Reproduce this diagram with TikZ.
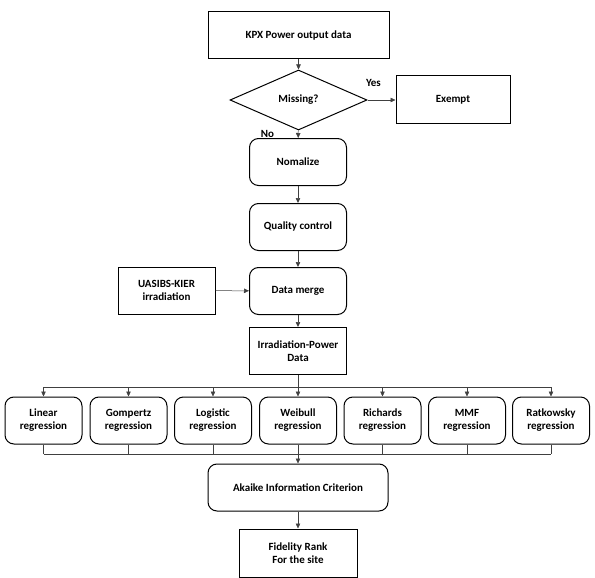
\documentclass[tikz,border=0pt]{standalone}
\usepackage{fontspec}
\setmainfont{Carlito}
\usetikzlibrary{shapes.geometric,arrows.meta}
\begin{document}
\begin{tikzpicture}[x=1pt,y=-1pt,
  every node/.style={font=\bfseries\fontsize{11}{13}\selectfont, align=center, inner sep=1pt},
  sqbox/.style={draw, line width=1pt, minimum width=#1, minimum height=47pt},
  sqbox/.default=97pt,
  rbox/.style={draw, line width=1pt, rounded corners=9pt, minimum width=#1, minimum height=47pt},
  rbox/.default=97pt,
  conn/.style={draw=black!75, line width=0.5pt},
  arr/.style={conn, -{Triangle[length=5pt,width=4.5pt]}}]
\useasboundingbox (0,0) rectangle (595,578);
\node[sqbox=181pt] (kpx) at (298.5,35.5) {KPX Power output data};
\node[draw, line width=1pt, diamond, aspect=2.3, minimum width=137pt, minimum height=60pt, inner sep=0pt] (miss) at (298.5,100) {Missing?};
\node[sqbox=114pt, minimum height=48pt] (ex) at (453,100) {Exempt};
\node[rbox] (norm) at (298,162) {Nomalize};
\node[rbox] (qc) at (298,227) {Quality control};
\node[rbox] (dm) at (298,291) {Data merge};
\node[sqbox] (ua) at (166.5,290.5) {UASIBS-KIER\\irradiation};
\node[sqbox] (ip) at (298,351) {Irradiation-Power\\Data};
\foreach \n/\x/\t in {lin/43.5/Linear, gom/128.5/Gompertz, log/213/Logistic, wei/298/Weibull, ric/382.5/Richards, mmf/467/MMF, rat/551/Ratkowsky}{
  \node[rbox=77pt] (\n) at (\x,420.5) {\t\\regression};
}
\node[rbox=180pt] (aic) at (298,487.5) {Akaike Information Criterion};
\node[sqbox=118pt, minimum height=48pt] (fid) at (298,553) {Fidelity Rank\\For the site};

\path (miss.east) ++(6,-12) node[anchor=south] (yes) {Yes};
\path (miss.south) ++(-31,3) node[anchor=center] (no) {No};

\draw[arr] (kpx) -- (miss);
\draw[arr] (miss) -- (ex);
\draw[arr] (miss) -- (norm);
\draw[arr] (norm) -- (qc);
\draw[arr] (qc) -- (dm);
\draw[arr] (ua) -- (dm);
\draw[arr] (dm) -- (ip);
\coordinate (br) at (298,387);
\coordinate (mg) at (298,454);
\draw[conn] (ip.south) -- (br);
\draw[conn] (lin.north |- br) -- (rat.north |- br);
\foreach \n in {lin,gom,log,wei,ric,mmf,rat}{
  \draw[arr] (\n.north |- br) -- (\n.north);
  \draw[conn] (\n.south) -- (\n.south |- mg);
}
\draw[conn] (lin.south |- mg) -- (rat.south |- mg);
\draw[arr] (mg) -- (aic.north);
\draw[arr] (aic) -- (fid);
\end{tikzpicture}
\end{document}
